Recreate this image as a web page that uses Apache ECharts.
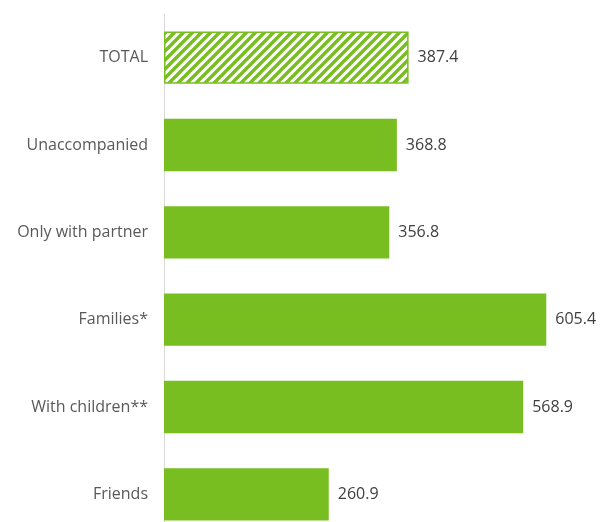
<!DOCTYPE html>
<html>
<head>
<meta charset="utf-8">
<script src="https://cdn.jsdelivr.net/npm/echarts@6/dist/echarts.min.js"></script>
<style>html,body{margin:0;padding:0;background:#fff}#c{width:610px;height:522px}</style>
</head>
<body>
<div id="c"></div>
<script>
const categories = ["TOTAL", "Unaccompanied", "Only with partner", "Families*", "With children**", "Friends"];
const values = [387.4, 368.8, 356.8, 605.4, 568.9, 260.9];

const GREEN = '#78BE20';
const pc = document.createElement('canvas');
pc.width = 9; pc.height = 9;
const ctx = pc.getContext('2d');
ctx.fillStyle = '#fff';
ctx.fillRect(0, 0, 9, 9);
ctx.strokeStyle = GREEN;
ctx.lineWidth = 3.4;
ctx.beginPath();
for (let k = -1; k <= 1; k++) {
  ctx.moveTo(-2 + k * 9, 11);
  ctx.lineTo(11 + k * 9, -2);
}
ctx.stroke();

const data = values.map((v, i) => i === 0 ? {
  value: v,
  itemStyle: { color: { image: pc, repeat: 'repeat' }, borderColor: GREEN, borderWidth: 1.5 }
} : { value: v, itemStyle: { color: GREEN } });

const chart = echarts.init(document.getElementById('c'), null, { renderer: 'canvas' });
chart.setOption({
  animation: false,
  grid: { left: 164, top: 14, width: 442, height: 524, outerBoundsMode: 'none', containLabel: false },
  xAxis: { type: 'value', min: 0, max: 700, show: false },
  yAxis: {
    type: 'category', data: categories, inverse: true,
    axisLine: { show: true, lineStyle: { color: '#D9D9D9', width: 1 } },
    axisTick: { show: false },
    axisLabel: { color: '#595959', fontSize: 16, fontFamily: 'Open Sans', margin: 16 }
  },
  series: [{
    type: 'bar', data: data, barCategoryGap: '40%',
    label: { show: true, position: 'right', distance: 9, color: '#404040', fontSize: 16, fontFamily: 'Open Sans', formatter: p => p.value.toFixed(1) }
  }]
});
</script>
</body>
</html>
